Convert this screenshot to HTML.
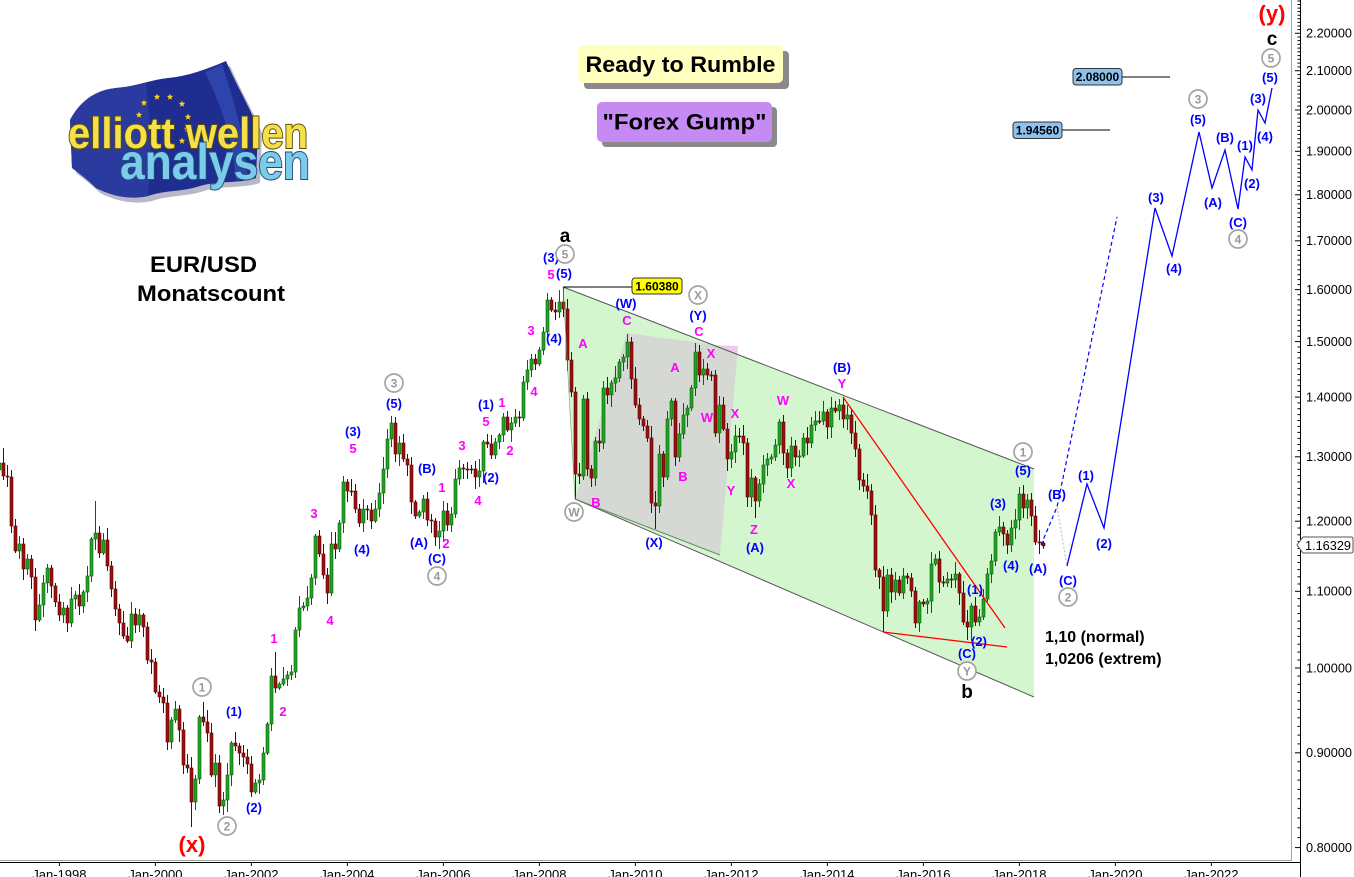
<!DOCTYPE html>
<html><head><meta charset="utf-8">
<style>
html,body{margin:0;padding:0;background:#fff;width:1354px;height:877px;overflow:hidden}
svg{display:block}
text{font-family:"Liberation Sans",Arial,sans-serif}
.b{fill:#0000ff;font-weight:bold;font-size:13px;text-anchor:middle}
.m{fill:#f0f;font-weight:bold;font-size:13px;text-anchor:middle}
.cn{fill:#999;font-weight:bold;font-size:12px;text-anchor:middle}
.k{fill:#000;font-weight:bold;font-size:19px;text-anchor:middle}
.r{fill:#ff0000;font-weight:bold;font-size:22px;text-anchor:middle}
.ax{fill:#000;font-size:13px}
.xl{fill:#000;font-size:13px;text-anchor:middle}
.pb{font-weight:bold;font-size:12px;fill:#000;text-anchor:middle}
</style></head>
<body>
<svg id="c" xmlns="http://www.w3.org/2000/svg" width="1354" height="877" viewBox="0 0 1354 877">
<rect width="1354" height="877" fill="#fff"/>

<!-- channel -->
<polygon points="563,287 1034,469 1034,697 575,499" fill="#d4f6cf"/>
<polygon points="627,333 738,348 720,555 575,499" fill="#d6d8d4"/>
<polygon points="712,345 738,346 737,353" fill="#f0c8ee"/>

<!-- logo -->
<g id="logo">
<path d="M70,120 C82,98 98,90 116,88 C138,86 150,80 168,78 C188,76 205,70 226,61 C238,88 250,108 258,128 L256,178 C238,184 220,180 200,186 C182,192 165,190 148,196 C130,200 112,196 96,188 C88,180 80,174 72,168 Z" fill="#b8b8c8" transform="translate(4,5)"/>
<path d="M70,120 C82,98 98,90 116,88 C138,86 150,80 168,78 C188,76 205,70 226,61 C238,88 250,108 258,128 L256,178 C238,184 220,180 200,186 C182,192 165,190 148,196 C130,200 112,196 96,188 C88,180 80,174 72,168 Z" fill="#1f2c90"/>
<path d="M70,120 C82,98 98,90 116,88 C128,87 138,85 146,83 C150,115 152,155 148,196 C130,200 112,196 96,188 C88,180 80,174 72,168 Z" fill="#2a3a9e"/>
<path d="M205,72 C218,100 232,130 236,180 L248,180 C244,130 232,96 222,64 Z" fill="#2e44ac"/>
<g id="stars"></g>
<text x="68" y="148" font-size="44" font-weight="bold" fill="#f4e04a" stroke="#5e4c00" stroke-width="2" paint-order="stroke" textLength="240" lengthAdjust="spacingAndGlyphs">elliott wellen</text>
<text x="120" y="179" font-size="50" font-weight="bold" fill="#7ccbea" stroke="#1b4f7a" stroke-width="2" paint-order="stroke" textLength="190" lengthAdjust="spacingAndGlyphs">analysen</text>
</g>

<!-- title boxes -->
<rect x="584" y="51" width="205" height="38" rx="4" fill="#8a8a8a"/>
<rect x="578" y="45" width="205" height="38" rx="5" fill="#ffffc0"/>
<text x="680.5" y="72" font-size="22" font-weight="bold" text-anchor="middle" textLength="190" lengthAdjust="spacingAndGlyphs">Ready to Rumble</text>
<rect x="602" y="107" width="175" height="40" rx="4" fill="#8a8a8a"/>
<rect x="597" y="102" width="175" height="40" rx="5" fill="#c68af5"/>
<text x="684.5" y="129.5" font-size="22" font-weight="bold" text-anchor="middle" textLength="164" lengthAdjust="spacingAndGlyphs">"Forex Gump"</text>

<text x="203.5" y="272" font-size="22" font-weight="bold" text-anchor="middle" textLength="107" lengthAdjust="spacingAndGlyphs">EUR/USD</text>
<text x="211" y="301" font-size="22" font-weight="bold" text-anchor="middle" textLength="148" lengthAdjust="spacingAndGlyphs">Monatscount</text>

<g id="candles"></g>

<!-- channel lines -->
<line x1="563" y1="287" x2="1034" y2="469" stroke="#555" stroke-width="1"/>
<line x1="575" y1="499" x2="1034" y2="697" stroke="#555" stroke-width="1"/>
<line x1="575" y1="499" x2="720" y2="555" stroke="#6a8a6a" stroke-width="1"/>
<line x1="563" y1="287" x2="575" y2="499" stroke="#7a9a7a" stroke-width="0.6"/>
<!-- red lines -->
<line x1="843" y1="397" x2="1005" y2="628" stroke="#ff0000" stroke-width="1.3"/>
<line x1="883" y1="632" x2="1007" y2="647" stroke="#ff0000" stroke-width="1.3"/>

<!-- projection -->
<path d="M1041,545 L1057,507 L1117,217" fill="none" stroke="#0000ff" stroke-width="1.2" stroke-dasharray="4,3"/>
<path d="M1057,507 L1067,566" fill="none" stroke="#c0c0c0" stroke-width="1.2" stroke-dasharray="2,2"/>
<path d="M1067,566 L1087,484 L1104,528 L1155,208 L1172,256 L1199,132 L1212,188 L1225,150 L1238,209 L1245,157 L1252,170 L1258,110 L1265,123 L1272,88" fill="none" stroke="#0000ff" stroke-width="1.3"/>

<!-- price boxes -->
<line x1="563" y1="287" x2="632" y2="287" stroke="#000" stroke-width="1"/>
<rect x="632" y="278" width="50" height="16" rx="3" fill="#ffff00" stroke="#333" stroke-width="1"/>
<text class="pb" x="657" y="290.5">1.60380</text>
<line x1="1122" y1="77" x2="1170" y2="77" stroke="#000" stroke-width="1"/>
<rect x="1073" y="68.5" width="49" height="16.5" rx="3" fill="#8ec2ee" stroke="#333" stroke-width="1"/>
<text class="pb" x="1097.5" y="81">2.08000</text>
<line x1="1062" y1="130" x2="1110" y2="130" stroke="#000" stroke-width="1"/>
<rect x="1013" y="122" width="49" height="16.5" rx="3" fill="#8ec2ee" stroke="#333" stroke-width="1"/>
<text class="pb" x="1037.5" y="134.5">1.94560</text>

<!-- blue labels -->
<text class="b" x="234" y="716">(1)</text>
<text class="b" x="254" y="812">(2)</text>
<text class="b" x="353" y="436">(3)</text>
<text class="b" x="362" y="554">(4)</text>
<text class="b" x="394" y="408">(5)</text>
<text class="b" x="427" y="473">(B)</text>
<text class="b" x="419" y="547">(A)</text>
<text class="b" x="437" y="563">(C)</text>
<text class="b" x="491" y="482">(2)</text>
<text class="b" x="486" y="409">(1)</text>
<text class="b" x="551" y="262">(3)</text>
<text class="b" x="564" y="278">(5)</text>
<text class="b" x="554" y="343">(4)</text>
<text class="b" x="626" y="308">(W)</text>
<text class="b" x="698" y="320">(Y)</text>
<text class="b" x="654" y="547">(X)</text>
<text class="b" x="755" y="552">(A)</text>
<text class="b" x="842" y="372">(B)</text>
<text class="b" x="975" y="594">(1)</text>
<text class="b" x="979" y="646">(2)</text>
<text class="b" x="967" y="658">(C)</text>
<text class="b" x="998" y="508">(3)</text>
<text class="b" x="1011" y="570">(4)</text>
<text class="b" x="1023" y="475">(5)</text>
<text class="b" x="1038" y="573">(A)</text>
<text class="b" x="1057" y="499">(B)</text>
<text class="b" x="1068" y="585">(C)</text>
<text class="b" x="1086" y="480">(1)</text>
<text class="b" x="1104" y="548">(2)</text>
<text class="b" x="1156" y="202">(3)</text>
<text class="b" x="1174" y="273">(4)</text>
<text class="b" x="1198" y="124">(5)</text>
<text class="b" x="1213" y="207">(A)</text>
<text class="b" x="1225" y="142">(B)</text>
<text class="b" x="1238" y="227">(C)</text>
<text class="b" x="1245" y="150">(1)</text>
<text class="b" x="1252" y="188">(2)</text>
<text class="b" x="1258" y="103">(3)</text>
<text class="b" x="1265" y="141">(4)</text>
<text class="b" x="1270" y="82">(5)</text>

<!-- magenta labels -->
<text class="m" x="274" y="643">1</text>
<text class="m" x="283" y="716">2</text>
<text class="m" x="314" y="518">3</text>
<text class="m" x="330" y="625">4</text>
<text class="m" x="353" y="453">5</text>
<text class="m" x="442" y="492">1</text>
<text class="m" x="446" y="548">2</text>
<text class="m" x="462" y="450">3</text>
<text class="m" x="478" y="505">4</text>
<text class="m" x="486" y="426">5</text>
<text class="m" x="502" y="407">1</text>
<text class="m" x="510" y="455">2</text>
<text class="m" x="531" y="335">3</text>
<text class="m" x="534" y="396">4</text>
<text class="m" x="551" y="279">5</text>
<text class="m" x="583" y="348">A</text>
<text class="m" x="596" y="507">B</text>
<text class="m" x="627" y="325">C</text>
<text class="m" x="675" y="372">A</text>
<text class="m" x="683" y="481">B</text>
<text class="m" x="699" y="336">C</text>
<text class="m" x="711" y="358">X</text>
<text class="m" x="707" y="422">W</text>
<text class="m" x="735" y="418">X</text>
<text class="m" x="731" y="495">Y</text>
<text class="m" x="754" y="534">Z</text>
<text class="m" x="783" y="405">W</text>
<text class="m" x="791" y="488">X</text>
<text class="m" x="842" y="388">Y</text>

<!-- circled -->
<g fill="#fff" stroke="#a4a4a4" stroke-width="1.7">
<circle cx="202" cy="687" r="9"/>
<circle cx="227" cy="826" r="9"/>
<circle cx="394" cy="383" r="9"/>
<circle cx="437" cy="576" r="9"/>
<circle cx="565" cy="254" r="9"/>
<circle cx="574" cy="512" r="9"/>
<circle cx="698" cy="295" r="9"/>
<circle cx="967" cy="671" r="9"/>
<circle cx="1023" cy="452" r="9"/>
<circle cx="1068" cy="597" r="9"/>
<circle cx="1198" cy="99" r="9"/>
<circle cx="1238" cy="239" r="9"/>
<circle cx="1271" cy="58" r="9"/>
</g>
<text class="cn" x="202" y="691.5">1</text>
<text class="cn" x="227" y="830.5">2</text>
<text class="cn" x="394" y="387.5">3</text>
<text class="cn" x="437" y="580.5">4</text>
<text class="cn" x="565" y="258.5">5</text>
<text class="cn" x="574" y="516.5">W</text>
<text class="cn" x="698" y="299.5">X</text>
<text class="cn" x="967" y="675.5">Y</text>
<text class="cn" x="1023" y="456.5">1</text>
<text class="cn" x="1068" y="601.5">2</text>
<text class="cn" x="1198" y="103.5">3</text>
<text class="cn" x="1238" y="243.5">4</text>
<text class="cn" x="1271" y="62.5">5</text>

<!-- big letters -->
<text class="k" x="565" y="242">a</text>
<text class="k" x="967" y="698">b</text>
<text class="k" x="1272" y="45">c</text>
<text class="r" x="192" y="852">(x)</text>
<text class="r" x="1272" y="21">(y)</text>

<text x="1045" y="642" font-size="16" font-weight="bold">1,10 (normal)</text>
<text x="1045" y="664" font-size="16" font-weight="bold">1,0206 (extrem)</text>

<!-- frame & axes -->
<line x1="0" y1="860.5" x2="1291.5" y2="860.5" stroke="#9aa89a" stroke-width="1"/>
<line x1="1291.5" y1="0" x2="1291.5" y2="860.5" stroke="#9aa89a" stroke-width="1"/>
<line x1="0" y1="862.5" x2="1301" y2="862.5" stroke="#000" stroke-width="1"/>
<line x1="1300.5" y1="0" x2="1300.5" y2="877" stroke="#000" stroke-width="1"/>
<g id="ticks"></g>

<text class="ax" x="1306" y="37.6" textLength="46" lengthAdjust="spacingAndGlyphs">2.20000</text>
<text class="ax" x="1306" y="75" textLength="46" lengthAdjust="spacingAndGlyphs">2.10000</text>
<text class="ax" x="1306" y="114.3" textLength="46" lengthAdjust="spacingAndGlyphs">2.00000</text>
<text class="ax" x="1306" y="155.6" textLength="46" lengthAdjust="spacingAndGlyphs">1.90000</text>
<text class="ax" x="1306" y="199.1" textLength="46" lengthAdjust="spacingAndGlyphs">1.80000</text>
<text class="ax" x="1306" y="245.2" textLength="46" lengthAdjust="spacingAndGlyphs">1.70000</text>
<text class="ax" x="1306" y="293.9" textLength="46" lengthAdjust="spacingAndGlyphs">1.60000</text>
<text class="ax" x="1306" y="345.9" textLength="46" lengthAdjust="spacingAndGlyphs">1.50000</text>
<text class="ax" x="1306" y="401.4" textLength="46" lengthAdjust="spacingAndGlyphs">1.40000</text>
<text class="ax" x="1306" y="461.1" textLength="46" lengthAdjust="spacingAndGlyphs">1.30000</text>
<text class="ax" x="1306" y="525.5" textLength="46" lengthAdjust="spacingAndGlyphs">1.20000</text>
<text class="ax" x="1306" y="595.6" textLength="46" lengthAdjust="spacingAndGlyphs">1.10000</text>
<text class="ax" x="1306" y="672.3" textLength="46" lengthAdjust="spacingAndGlyphs">1.00000</text>
<text class="ax" x="1306" y="757.1" textLength="46" lengthAdjust="spacingAndGlyphs">0.90000</text>
<text class="ax" x="1306" y="851.9" textLength="46" lengthAdjust="spacingAndGlyphs">0.80000</text>

<path d="M1297,545 L1303,537 L1351,537 Q1353,537 1353,539 L1353,551 Q1353,553 1351,553 L1303,553 Z" fill="#fff" stroke="#555" stroke-width="1"/>
<text class="ax" x="1305" y="549.8" textLength="46" lengthAdjust="spacingAndGlyphs">1.16329</text>

<text class="xl" x="59.4" y="879">Jan-1998</text>
<text class="xl" x="155.4" y="879">Jan-2000</text>
<text class="xl" x="251.4" y="879">Jan-2002</text>
<text class="xl" x="347.4" y="879">Jan-2004</text>
<text class="xl" x="443.4" y="879">Jan-2006</text>
<text class="xl" x="539.4" y="879">Jan-2008</text>
<text class="xl" x="635.4" y="879">Jan-2010</text>
<text class="xl" x="731.4" y="879">Jan-2012</text>
<text class="xl" x="827.4" y="879">Jan-2014</text>
<text class="xl" x="923.4" y="879">Jan-2016</text>
<text class="xl" x="1019.4" y="879">Jan-2018</text>
<text class="xl" x="1115.4" y="879">Jan-2020</text>
<text class="xl" x="1211.4" y="879">Jan-2022</text>
</svg>
<script>
(function(){
var closes=[463,476,477,526,551,544,569,559,577,620,605,583,568,586,602,
615,608,623,599,595,606,592,576,539,533,553,540,
566,589,609,623,636,641,614,625,615,627,660,662,
692,697,703,742,720,709,730,765,768,802,779,717,
722,733,775,763,806,800,775,743,746,753,757,764,
792,783,780,753,724,676,688,684,679,675,672,630,
608,606,598,578,536,554,575,593,544,549,523,482,
491,491,509,523,509,510,521,509,493,469,439,423,
454,443,459,465,502,516,512,499,520,521,537,531,
511,525,514,479,468,469,469,469,477,471,442,444,
455,442,435,417,430,423,417,418,382,370,359,364,
350,332,300,310,312,302,309,360,392,474,476,399,
469,478,441,443,388,395,383,378,362,357,342,379,
405,419,426,438,503,506,454,477,419,401,457,434,
415,408,388,352,375,369,375,375,433,405,429,459,
452,436,436,443,497,478,501,484,465,459,457,445,
422,453,468,446,457,456,438,443,425,421,421,412,
427,408,411,405,419,415,433,449,480,486,491,515,
570,577,611,575,592,580,593,576,578,591,623,602,
604,601,564,559,582,583,579,580,574,593,622,627,
606,622,617,599,574,561,532,527,534,545,528,520,
494,508,500,516,542,543,546];
var ov={"-15":[455,0],"-14":[448,0],"9":[501,0],"33":[0,827],"36":[702,0],"41":[0,815],"54":[652,0],"83":[416,0],"94":[0,546],"126":[288,0],"129":[0,499],"142":[334,0],"149":[0,529],"160":[345,0],"174":[0,518],"196":[397,0],"206":[0,632],"227":[0,640],"228":[0,641],"241":[485,0],"246":[541,549]};
function rnd(n){var v=Math.sin(n*12.9898+78.233)*43758.5453;return v-Math.floor(v);}
var prev=470,s='';
for(var i=0;i<closes.length;i++){
 var m=-15+i, x=Math.round(59.4+4*m);
 var o=prev,c=closes[i];prev=c;
 var top=Math.min(o,c),bot=Math.max(o,c);
 var hi=top-(2+Math.floor(rnd(i*2+1)*11)), lo=bot+(2+Math.floor(rnd(i*2+2)*11));
 var k=ov[String(m)];
 if(k){if(k[0])hi=k[0];if(k[1])lo=k[1];}
 var up=c<o;
 var col=up?'#22a322':'#981010', dk=up?'#0b5e0b':'#5a0505';
 s+='<line x1="'+(x+0.5)+'" y1="'+hi+'" x2="'+(x+0.5)+'" y2="'+lo+'" stroke="'+dk+'" stroke-width="1"/>';
 var h=Math.max(1,bot-top);
 s+='<rect x="'+(x-1)+'" y="'+top+'" width="3" height="'+h+'" fill="'+col+'" stroke="'+dk+'" stroke-width="0.6"/>';
}
document.getElementById('candles').innerHTML=s;
var t='';
for(var p=80;p<=229;p++){
 var y=668-805*Math.log(p/100);
 var maj=(p%10===0);
 t+='<line x1="'+(maj?1295:1297.5)+'" y1="'+y.toFixed(1)+'" x2="1300.5" y2="'+y.toFixed(1)+'" stroke="#000" stroke-width="1"/>';
}
for(var j=0;j<13;j++){
 var xx=(59.4+96*j).toFixed(1);
 t+='<line x1="'+xx+'" y1="862.5" x2="'+xx+'" y2="866" stroke="#000" stroke-width="1"/>';
}
document.getElementById('ticks').innerHTML=t;
var st=[[144,103],[157,97],[170,97],[182,104],[188,117],[187,129],[182,141],[139,115]];
var ss='';
for(var a=0;a<st.length;a++){
 var cx=st[a][0],cy=st[a][1],pts=[];
 for(var q=0;q<10;q++){var r=(q%2===0)?3.4:1.5;var an=-Math.PI/2+q*Math.PI/5;pts.push((cx+r*Math.cos(an)).toFixed(1)+','+(cy+r*Math.sin(an)).toFixed(1));}
 ss+='<polygon points="'+pts.join(' ')+'" fill="#f6d21e"/>';
}
document.getElementById('stars').innerHTML=ss;
})();
</script>
</body></html>
